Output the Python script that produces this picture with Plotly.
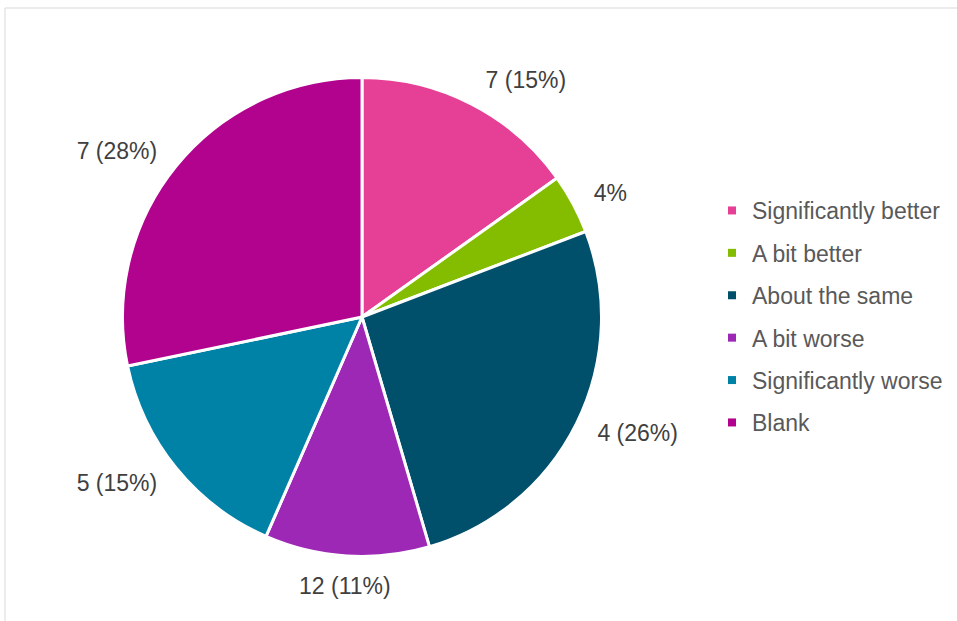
import math
import plotly.graph_objects as go

categories = ["Significantly better", "A bit better", "About the same",
              "A bit worse", "Significantly worse", "Blank"]
percent_values = [15, 4, 26, 11, 15, 28]
label_texts = ["7 (15%)", "4%", "4 (26%)", "12 (11%)", "5 (15%)", "7 (28%)"]
colors = ["#E63F96", "#84BD00", "#004F6B", "#9C28B5", "#0082A7", "#B1038D"]

W, H = 957, 621
cx, cy, r = 362, 317, 239.5
FONT = "Liberation Sans, Arial, sans-serif"
# slice whose label is placed centred below it (Excel-style) instead of plotly's outside anchor
CENTRED_LABEL = 3

def dom(rad):
    return dict(x=[(cx - rad) / W, (cx + rad) / W],
                y=[(H - cy - rad) / H, (H - cy + rad) / H])

pie_texts = [("" if i == CENTRED_LABEL else t) for i, t in enumerate(label_texts)]

fig = go.Figure()

# invisible larger pie only to place the outside labels
fig.add_trace(go.Pie(
    labels=categories, values=percent_values, sort=False, direction="clockwise",
    rotation=0, domain=dom(r + 16), text=pie_texts, textinfo="text",
    textposition="outside", textfont=dict(family=FONT, size=23, color="#404040"),
    marker=dict(colors=["rgba(0,0,0,0)"] * len(categories), line=dict(width=0)),
    showlegend=False, hoverinfo="skip", automargin=False,
))

fig.add_trace(go.Pie(
    labels=categories, values=percent_values, sort=False, direction="clockwise",
    rotation=0, domain=dom(r), textinfo="none",
    marker=dict(colors=colors, line=dict(color="white", width=3)),
    showlegend=False, automargin=False,
))

# legend entries
for i, (c, col) in enumerate(zip(categories, colors)):
    fig.add_trace(go.Scatter(
        x=[None], y=[None], mode="markers", name=c, legendgroup=str(i),
        marker=dict(symbol="square", size=8, color=col),
    ))

# centred label for the selected slice, from its mid-angle
total = sum(percent_values)
start = sum(percent_values[:CENTRED_LABEL])
mid = (start + percent_values[CENTRED_LABEL] / 2) / total * 2 * math.pi
lr = r + 30
lx = cx + lr * math.sin(mid)
ly = cy - lr * math.cos(mid)

fig.update_layout(
    width=W, height=H, margin=dict(l=0, r=0, t=0, b=0),
    paper_bgcolor="white", plot_bgcolor="white",
    xaxis=dict(visible=False), yaxis=dict(visible=False),
    legend=dict(x=712 / W, y=(H - 189) / H, xanchor="left", yanchor="top",
                font=dict(family=FONT, size=23, color="#595959"),
                tracegroupgap=9.5, itemwidth=30, bgcolor="rgba(0,0,0,0)"),
    annotations=[dict(x=lx / W, y=(H - ly) / H, xref="paper", yref="paper",
                      text=label_texts[CENTRED_LABEL], showarrow=False,
                      xanchor="center", yanchor="middle",
                      font=dict(family=FONT, size=23, color="#404040"))],
    shapes=[dict(type="rect", xref="paper", yref="paper",
                 x0=5 / W, x1=1.02, y0=-0.02, y1=(H - 8) / H,
                 line=dict(color="#D9D9D9", width=1), fillcolor="rgba(0,0,0,0)")],
)

fig.write_html("out.html", config={"displayModeBar": False},
               post_script="document.body.style.margin='0';")
